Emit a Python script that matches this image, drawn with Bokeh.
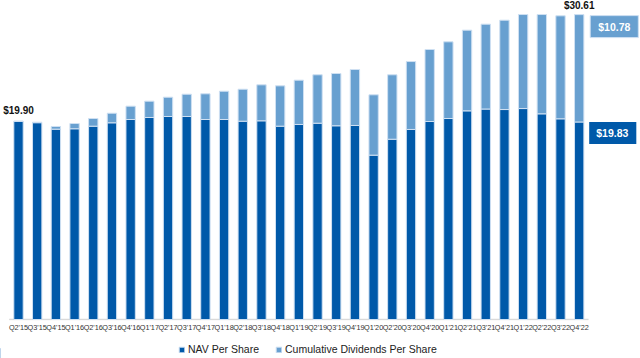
from bokeh.plotting import figure
from bokeh.layouts import column
from bokeh.models import ColumnDataSource, Range1d, Legend, LegendItem, Label, FixedTicker
from bokeh.embed import file_html
from bokeh.resources import INLINE

quarters = ["Q2'15", "Q3'15", "Q4'15", "Q1'16", "Q2'16", "Q3'16", "Q4'16", "Q1'17",
            "Q2'17", "Q3'17", "Q4'17", "Q1'18", "Q2'18", "Q3'18", "Q4'18", "Q1'19",
            "Q2'19", "Q3'19", "Q4'19", "Q1'20", "Q2'20", "Q3'20", "Q4'20", "Q1'21",
            "Q2'21", "Q3'21", "Q4'21", "Q1'22", "Q2'22", "Q3'22", "Q4'22"]

nav_per_share = [19.90, 19.76, 19.11, 19.15, 19.41, 19.75, 20.08, 20.28, 20.38, 20.38,
                 20.08, 20.08, 19.91, 19.95, 19.41, 19.58, 19.71, 19.45, 19.48, 16.50,
                 18.10, 19.08, 19.88, 20.18, 20.95, 21.13, 21.08, 21.18, 20.65, 20.15, 19.83]

cum_dividends = [0.00, 0.05, 0.27, 0.53, 0.77, 0.96, 1.34, 1.64, 1.94, 2.24,
                 2.58, 2.84, 3.21, 3.61, 4.05, 4.45, 4.86, 5.25, 5.62, 6.06,
                 6.47, 6.82, 7.23, 7.70, 8.10, 8.52, 8.97, 9.44, 9.97, 10.34, 10.78]

series_names = ["NAV Per Share", "Cumulative Dividends Per Share"]

DARK = "#0059A9"
LIGHT = "#68A0D0"
EDGE = "#cfe0f2"
FONT = "Liberation Sans"

idx = list(range(len(quarters)))
source = ColumnDataSource(dict(x=idx, q=quarters, nav=nav_per_share, div=cum_dividends))

PX_X = 18.69   # pixels per category
PX_Y = 9.96    # pixels per dollar
x_start = -18.0 / PX_X
y_start = -1.0 / PX_Y

p = figure(x_range=Range1d(x_start, x_start + 640 / PX_X),
           y_range=Range1d(y_start, y_start + 320 / PX_Y),
           width=640, height=338, output_backend="svg", toolbar_location=None,
           y_axis_location=None, min_border_left=0, min_border_right=0,
           min_border_top=0, min_border_bottom=18)
p.outline_line_color = None
p.xgrid.grid_line_color = None
p.ygrid.grid_line_color = None

# baseline rule under the bars
p.segment(x0=[idx[0] - 0.5], y0=[0], x1=[idx[-1] + 0.5], y1=[0],
          line_color="#d9d9d9", line_width=1.5)

rs = p.vbar_stack(["nav", "div"], x="x", width=0.5, color=[DARK, LIGHT],
                  line_color=EDGE, line_width=1, source=source)

ax = p.xaxis[0]
ax.ticker = FixedTicker(ticks=idx)
ax.major_label_overrides = {i: q for i, q in zip(idx, quarters)}
ax.axis_line_color = None
ax.major_tick_line_color = None
ax.minor_tick_line_color = None
ax.major_tick_out = 0
ax.major_tick_in = 0
ax.minor_tick_out = 0
ax.major_label_standoff = 2
ax.major_label_text_font_size = "7.3px"
ax.major_label_text_font = FONT
ax.major_label_text_color = "#333333"

first_total = nav_per_share[0] + cum_dividends[0]
last_total = nav_per_share[-1] + cum_dividends[-1]

p.add_layout(Label(x=idx[0], y=first_total, x_offset=0, y_offset=5,
                   text="$%.2f" % first_total, text_align="center", text_baseline="bottom",
                   text_font=FONT, text_font_size="10px", text_font_style="bold",
                   text_color="#111111"))
p.add_layout(Label(x=idx[-1], y=last_total, x_offset=0, y_offset=4,
                   text="$%.2f" % last_total, text_align="center", text_baseline="bottom",
                   text_font=FONT, text_font_size="10px", text_font_style="bold",
                   text_color="#111111"))

p.add_layout(Label(x=idx[-1], y=last_total, x_offset=11, y_offset=-1,
                   text="$%.2f" % cum_dividends[-1], text_align="left", text_baseline="top",
                   text_font=FONT, text_font_size="10.5px", text_font_style="bold",
                   text_color="white", background_fill_color=LIGHT,
                   border_line_color=EDGE,
                   padding=dict(left=8, right=8, top=5, bottom=5)))
p.add_layout(Label(x=idx[-1], y=nav_per_share[-1], x_offset=10, y_offset=0,
                   text="$%.2f" % nav_per_share[-1], text_align="left", text_baseline="top",
                   text_font=FONT, text_font_size="10.5px", text_font_style="bold",
                   text_color="white", background_fill_color=DARK,
                   border_line_color=None,
                   padding=dict(left=7, right=8, top=5, bottom=5)))

# legend strip below the chart
lg = figure(x_range=Range1d(0, 1), y_range=Range1d(0, 1), width=640, height=20,
            output_backend="svg", toolbar_location=None,
            x_axis_location=None, y_axis_location=None,
            min_border_left=0, min_border_right=0, min_border_top=0, min_border_bottom=0)
lg.outline_line_color = None
lg.xgrid.grid_line_color = None
lg.ygrid.grid_line_color = None
key_src = ColumnDataSource(dict(x=[-5], top=[0.5]))
k1 = lg.vbar(x="x", top="top", width=0.5, color=DARK, line_color=EDGE, source=key_src)
k2 = lg.vbar(x="x", top="top", width=0.5, color=LIGHT, line_color=EDGE, source=key_src)
legend = Legend(items=[LegendItem(label=series_names[0], renderers=[k1]),
                       LegendItem(label=series_names[1], renderers=[k2])],
                location=(178, 3), orientation="horizontal",
                glyph_width=7, glyph_height=7, label_height=12, label_standoff=3,
                spacing=16, padding=0, margin=0,
                label_text_font=FONT, label_text_font_size="10.5px",
                label_text_color="#222222",
                border_line_color=None, background_fill_alpha=0)
lg.add_layout(legend, "center")

layout = column(p, lg, spacing=0)
open("out.html", "w").write(file_html(layout, INLINE))
